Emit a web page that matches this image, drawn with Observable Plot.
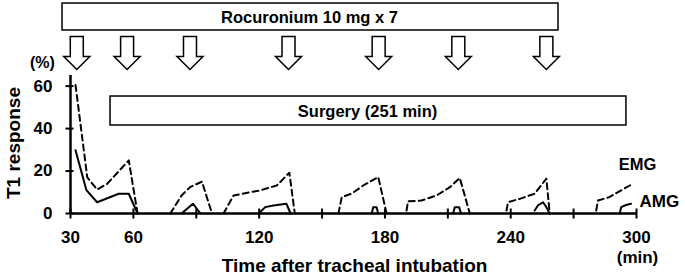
<!DOCTYPE html>
<html>
<head>
<meta charset="utf-8">
<script src="https://cdn.jsdelivr.net/npm/d3@7"></script>
<script src="https://cdn.jsdelivr.net/npm/@observablehq/plot@0.6"></script>
<style>
  html, body { margin: 0; padding: 0; background: #fff; }
</style>
</head>
<body>
<div id="chart"></div>
<script>
// ---- data (null = gap in the recording) ----
const doseTimes = [33, 57, 87, 134, 177, 215, 257];

const emgTime  = [32.4, 38, 42.7, 47.5, 57.8, 62, null,
                  77.6, 83, 87, 92.7, 97.5, null,
                  103, 107.8, 115.7, 120.5, 128.4, 134.4, 137, null,
                  157.8, 159.4, 164, 169.7, 176.8, 180.8, null,
                  190.3, 191, 197.4, 204.6, 211, 215.7, 220.5, null,
                  238, 238.7, 244.3, 251.4, 257, 258.6, null,
                  280.8, 281.6, 287, 292.7, 298.2];
const emgValue = [60.5, 17, 11.3, 14, 25, 0, null,
                  0, 8.5, 12.4, 15, 0, null,
                  0, 8.5, 10, 10.9, 13.2, 19.2, 0, null,
                  0, 7.7, 9.3, 13.2, 17.2, 0, null,
                  1.4, 5.7, 6.1, 8.5, 12.4, 16.7, 0, null,
                  1.4, 5.3, 6.9, 9.3, 16.4, 0, null,
                  1.4, 6.1, 7.7, 10.9, 14];

const amgTime  = [32.4, 37.6, 42.7, 53, 57.8, 62, null,
                  83, 88.4, 92, null,
                  119.7, 122.9, 126.8, 133, 135, null,
                  173.7, 174.4, 176, 176.8, null,
                  212.5, 213.3, 215.4, 216.3, null,
                  251.4, 253, 255.4, 257, 258.6, null,
                  292, 292.7, 295, 297.4];
const amgValue = [29.8, 11, 5.3, 9.3, 9.3, 0, null,
                  0, 4.6, 0, null,
                  0, 3, 3.8, 4.6, 0, null,
                  0, 3, 3, 0, null,
                  0, 3, 3, 0, null,
                  1.4, 3.8, 5.3, 3, 0, null,
                  0, 3, 4, 4.6];

const xTicks = [30, 60, 90, 120, 150, 180, 210, 240, 270, 300];
const xTickLabels = [30, 60, 120, 180, 240, 300];
const yTicks = [0, 20, 40, 60];

const seriesNames = ["EMG", "AMG"];
const doseLabel = "Rocuronium 10 mg x 7";
const surgeryLabel = "Surgery (251 min)";
const xTitle = "Time after tracheal intubation";
const yTitle = "T1 response";
const yUnit = "(%)";
const xUnit = "(min)";

// ---- tables ----
const emg = emgTime.map((t, i) => ({t, v: emgValue[i]}));
const amg = amgTime.map((t, i) => ({t, v: amgValue[i]}));

// ---- custom symbols ----
const arrowSymbol = {
  draw(c) {
    c.moveTo(-6.5, -16.5);
    c.lineTo(6.5, -16.5);
    c.lineTo(6.5, 3.5);
    c.lineTo(13, 3.5);
    c.lineTo(0, 16.5);
    c.lineTo(-13, 3.5);
    c.lineTo(-6.5, 3.5);
    c.closePath();
  }
};
const vTick = { draw(c) { c.moveTo(0, -5); c.lineTo(0, 5); } };
const hTick = { draw(c) { c.moveTo(-5, 0); c.lineTo(3, 0); } };

const FONT = "'Liberation Sans', Arial, Helvetica, sans-serif";

const chart = Plot.plot({
  width: 685,
  height: 278,
  marginLeft: 70,
  marginRight: 49,
  marginTop: 75,
  marginBottom: 65,
  x: {domain: [30, 300], axis: null},
  y: {domain: [0, 65], axis: null},
  style: {fontFamily: FONT, background: "#fff", color: "#000"},
  marks: [
    // annotation boxes
    Plot.rect([0], {x1: 26.2, x2: 262.8, y1: 86.2, y2: 98.9, fill: "#fff", stroke: "#000", strokeWidth: 1.5}),
    Plot.text([doseLabel], {x: 144, y: 92.1, text: d => d, fontSize: 16.5, fontWeight: "bold", fill: "#000"}),
    Plot.rect([0], {x1: 49.1, x2: 295.2, y1: 41.45, y2: 55.1, fill: "#fff", stroke: "#000", strokeWidth: 1.5}),
    Plot.text([surgeryLabel], {x: 171.7, y: 48, text: d => d, fontSize: 16.5, fontWeight: "bold", fill: "#000"}),
    // dose arrows
    Plot.dot(doseTimes, {x: d => d, y: 75.6, symbol: arrowSymbol, fill: "#fff", stroke: "#000", strokeWidth: 1.5}),
    // axes
    Plot.ruleY([0], {x1: 30, x2: 300, stroke: "#000", strokeWidth: 2.5}),
    Plot.ruleX([30], {y1: 0, y2: 65, stroke: "#000", strokeWidth: 2.5}),
    Plot.dot(xTicks, {x: d => d, y: 0, symbol: vTick, fill: "none", stroke: "#000", strokeWidth: 2}),
    Plot.dot(yTicks, {x: 30, y: d => d, symbol: hTick, fill: "none", stroke: "#000", strokeWidth: 2}),
    Plot.text(xTickLabels, {x: d => d, y: 0, dy: 24, text: d => String(d), fontSize: 17, fontWeight: "bold", fill: "#000"}),
    Plot.text([xUnit], {x: 300, y: 0, dy: 44, dx: 1, text: d => d, fontSize: 17, fontWeight: "bold", fill: "#000"}),
    Plot.text(yTicks, {x: 30, y: d => d, dx: -18, textAnchor: "end", text: d => String(d), fontSize: 17, fontWeight: "bold", fill: "#000"}),
    Plot.text([xTitle], {x: 165.5, y: 0, dy: 52, text: d => d, fontSize: 19, fontWeight: "bold", fill: "#000"}),
    Plot.text([yTitle], {x: 2.8, y: 33.2, rotate: -90, text: d => d, fontSize: 19, fontWeight: "bold", fill: "#000"}),
    Plot.text([yUnit], {x: 16.6, y: 71.1, text: d => d, fontSize: 16, fontWeight: "bold", fill: "#000"}),
    // series
    Plot.line(emg, {x: "t", y: "v", stroke: "#000", strokeWidth: 2, strokeDasharray: "6,4"}),
    Plot.line(amg, {x: "t", y: "v", stroke: "#000", strokeWidth: 2}),
    // series labels
    Plot.text([seriesNames[0]], {x: 300, y: 23.1, dx: 1, text: d => d, fontSize: 16.5, fontWeight: "bold", fill: "#000"}),
    Plot.text([seriesNames[1]], {x: 300, y: 5.65, dx: 3, textAnchor: "start", text: d => d, fontSize: 17, fontWeight: "bold", fill: "#000"})
  ]
});
document.getElementById("chart").appendChild(chart);
</script>
</body>
</html>
